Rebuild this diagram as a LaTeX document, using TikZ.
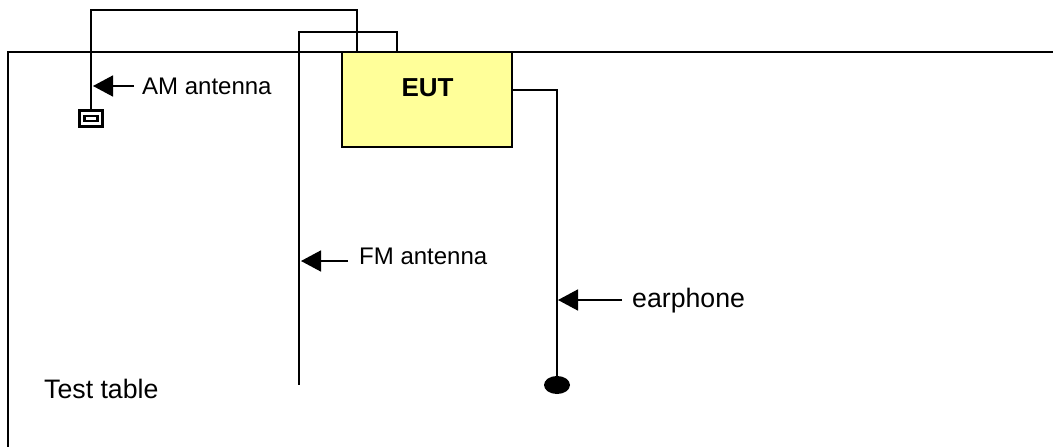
\documentclass[tikz,border=0pt]{standalone}
\usepackage{fontspec}
\setmainfont{Liberation Sans}
\usetikzlibrary{arrows.meta,shapes.geometric}
\definecolor{eutyellow}{RGB}{255,255,153}
\tikzset{
  wire/.style={draw=black,line width=2.2pt,line join=miter},
  pointer/.style={draw=black,line width=1.6pt,-{Triangle[length=20pt,width=21pt,fill=black]}},
  lbl/.style={inner sep=0pt,anchor=base west,text=black},
  lblS/.style={lbl,font=\fontsize{24pt}{28pt}\selectfont},
  lblL/.style={lbl,font=\fontsize{26.7pt}{30pt}\selectfont},
  eutbox/.style={draw=black,line width=2.2pt,fill=eutyellow,inner sep=0pt,outer sep=0pt,minimum width=170pt,minimum height=95pt,anchor=north west},
  bud/.style={ellipse,fill=black,inner sep=0pt,outer sep=0pt,minimum width=26pt,minimum height=18pt},
  holder/.style={draw=black,line width=3pt,fill=white,inner sep=0pt,outer sep=0pt}
}
\begin{document}
\begin{tikzpicture}[x=1pt,y=-1pt]
\useasboundingbox (0,0) rectangle (1053,447);
% table outline
\coordinate (tblBL) at (8,447);
\coordinate (tblTL) at (8,52);
\coordinate (tblTR) at (1053,52);
\draw[wire] (tblBL) -- (tblTL) -- (tblTR);
% EUT
\node[eutbox] (eut) at (342,52) {};
\node[inner sep=0pt,font=\fontsize{26pt}{28pt}\selectfont\bfseries] (eutlabel) at (427.5,87.5) {EUT};
% AM antenna
\node[holder,minimum width=23pt,minimum height=16pt] (amOuter) at (91,118.5) {};
\node[holder,line width=2.6pt,minimum width=13.5pt,minimum height=4.8pt] (amInner) at (91,118.5) {};
\coordinate (amTop) at (357,52);
\coordinate (amA) at (357,10);
\coordinate (amB) at (91,10);
\draw[wire] (amTop) -- (amA) -- (amB) -- (amB |- amOuter.north);
% FM antenna
\coordinate (fmTop) at (397,52);
\coordinate (fmA) at (397,32);
\coordinate (fmB) at (299,32);
\coordinate (fmEnd) at (299,385);
\draw[wire] (fmTop) -- (fmA) -- (fmB) -- (fmEnd);
% earphone
\node[bud] (bud) at (557,385) {};
\coordinate (earOut) at (512,90);
\coordinate (earA) at (557,90);
\draw[wire] (earOut) -- (earA) -- (bud.center);
% labels
\node[lblS] (amL) at (142,94) {AM antenna};
\node[lblS] (fmL) at (359,264) {FM antenna};
\node[lblL] (earL) at (632,307) {earphone};
\node[lblL] (tableL) at (44,398) {Test table};
% pointers
\coordinate (amTail) at (134,86);
\coordinate (amTip) at (93,86);
\coordinate (fmTail) at (348,261);
\coordinate (fmTip) at (301,261);
\coordinate (earTail) at (622,300);
\coordinate (earTip) at (558,300);
\draw[pointer] (amTail) -- (amTip);
\draw[pointer] (fmTail) -- (fmTip);
\draw[pointer] (earTail) -- (earTip);
\end{tikzpicture}
\end{document}
